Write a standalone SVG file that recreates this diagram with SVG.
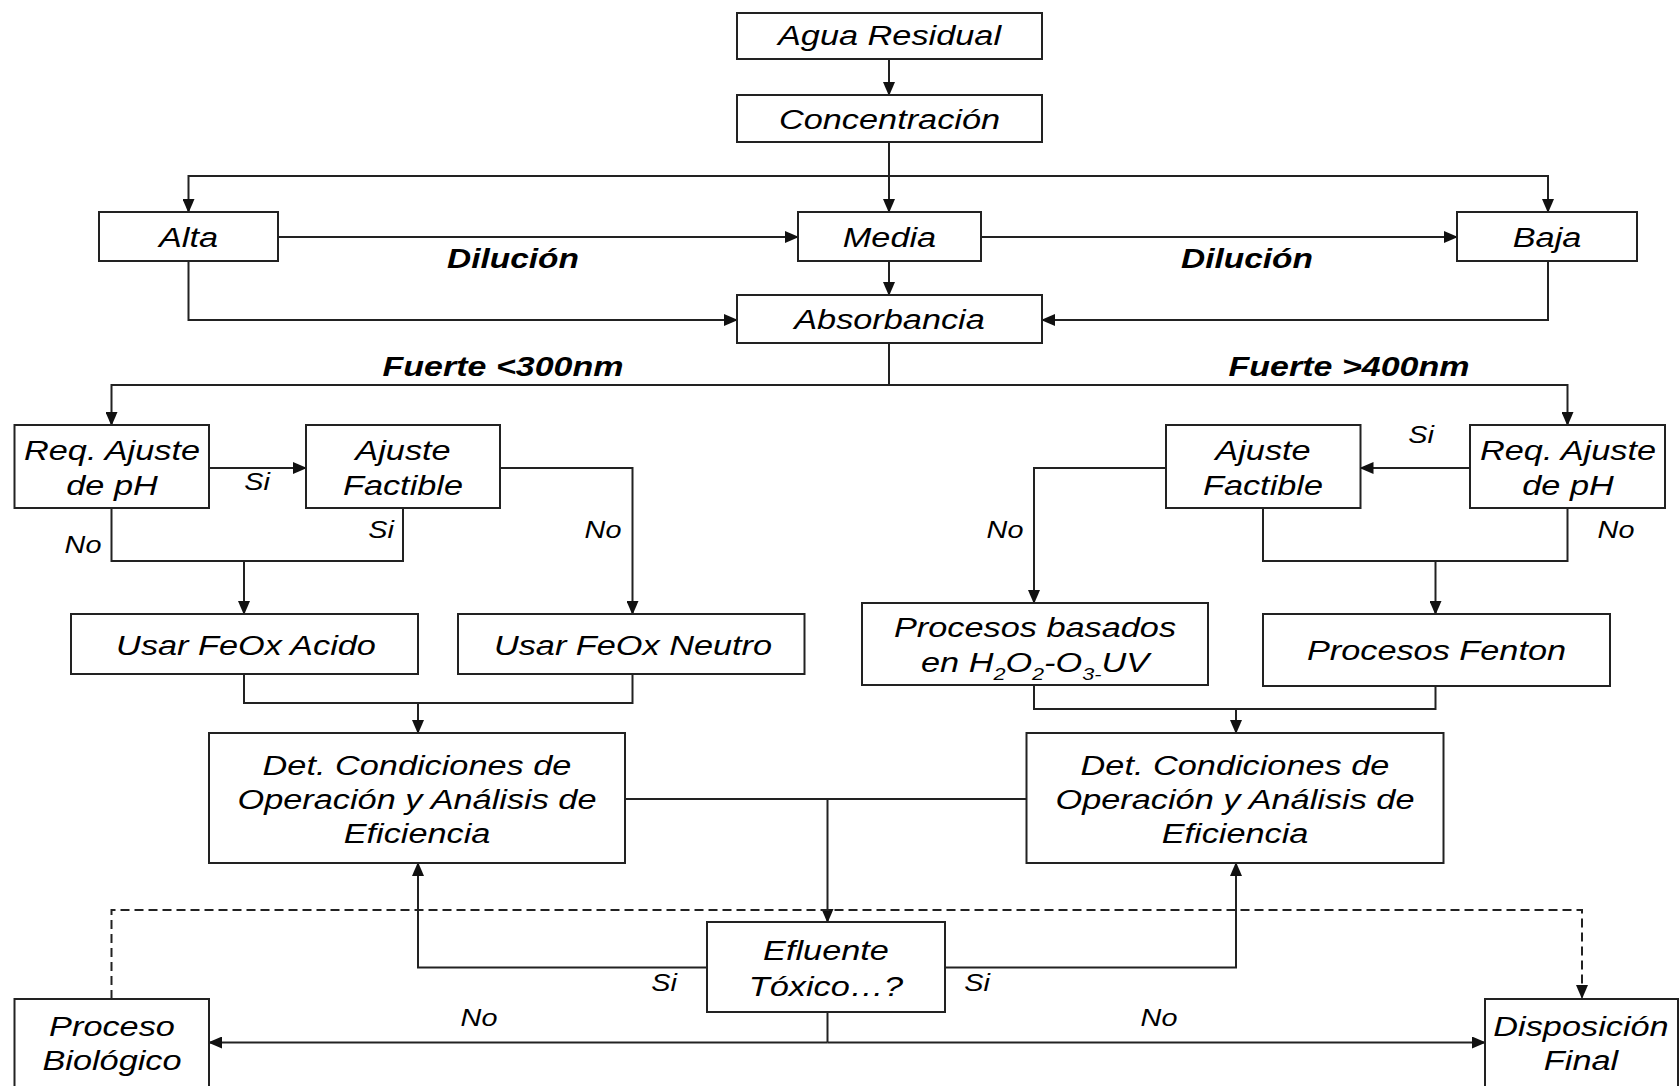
<svg xmlns="http://www.w3.org/2000/svg" width="1679" height="1086" viewBox="0 0 1679 1086">
<style>
.box{fill:#fff;stroke:#222;stroke-width:2}
.c{fill:none;stroke:#222;stroke-width:2}
.d{fill:none;stroke:#222;stroke-width:2;stroke-dasharray:9,5}
.t{font-family:"Liberation Sans",Arial,sans-serif;font-style:italic;font-size:27px;fill:#000;text-anchor:middle}
.l{font-family:"Liberation Sans",Arial,sans-serif;font-style:italic;font-size:24px;fill:#000;text-anchor:middle}
.b{font-family:"Liberation Sans",Arial,sans-serif;font-style:italic;font-weight:bold;font-size:27px;fill:#000;text-anchor:middle}
.s{font-size:17px}
</style>
<defs>
<marker id="ah" markerUnits="userSpaceOnUse" markerWidth="14" markerHeight="12" viewBox="0 0 14 12" refX="13" refY="6" orient="auto">
<path d="M0,0 L14,6 L0,12 Z" fill="#111"/>
</marker>
</defs>
<rect width="1679" height="1086" fill="#fff"/>

<g id="connectors">
<path class="c" d="M889,59 V95" marker-end="url(#ah)"/>
<path class="c" d="M889,142 V212" marker-end="url(#ah)"/>
<path class="c" d="M889,176 H188.5 V212" marker-end="url(#ah)"/>
<path class="c" d="M889,176 H1548 V212" marker-end="url(#ah)"/>
<path class="c" d="M278,237 H798" marker-end="url(#ah)"/>
<path class="c" d="M981,237 H1457" marker-end="url(#ah)"/>
<path class="c" d="M889,261 V295" marker-end="url(#ah)"/>
<path class="c" d="M188.5,261 V320 H737" marker-end="url(#ah)"/>
<path class="c" d="M1548,261 V320 H1042" marker-end="url(#ah)"/>
<path class="c" d="M889,343 V385"/>
<path class="c" d="M889,385 H111.5 V425" marker-end="url(#ah)"/>
<path class="c" d="M889,385 H1567.5 V425" marker-end="url(#ah)"/>
<path class="c" d="M209,468 H306" marker-end="url(#ah)"/>
<path class="c" d="M111.5,508 V561 H403 V508"/>
<path class="c" d="M244,561 V614" marker-end="url(#ah)"/>
<path class="c" d="M500,468 H632.5 V614" marker-end="url(#ah)"/>
<path class="c" d="M244,674 V703 H632.5 V674"/>
<path class="c" d="M418,703 V733" marker-end="url(#ah)"/>
<path class="c" d="M1470,468 H1360.5" marker-end="url(#ah)"/>
<path class="c" d="M1166,468 H1034 V603" marker-end="url(#ah)"/>
<path class="c" d="M1263,508 V561 H1567.5 V508"/>
<path class="c" d="M1435.5,561 V614" marker-end="url(#ah)"/>
<path class="c" d="M1034,685 V709 H1435.5 V686"/>
<path class="c" d="M1236,709 V733" marker-end="url(#ah)"/>
<path class="c" d="M625,799 H1026"/>
<path class="c" d="M827.5,799 V922" marker-end="url(#ah)"/>
<path class="c" d="M707,967.5 H418 V863" marker-end="url(#ah)"/>
<path class="c" d="M945,967.5 H1236 V863" marker-end="url(#ah)"/>
<path class="c" d="M827.5,1012 V1042.5"/>
<path class="c" d="M827.5,1042.5 H209" marker-end="url(#ah)"/>
<path class="c" d="M827.5,1042.5 H1485" marker-end="url(#ah)"/>
<path class="d" d="M111.5,999 V910 H1582 V998" marker-end="url(#ah)"/>
</g>

<g id="labels">
<text class="b" transform="translate(513,268) scale(1.24,1)">Dilución</text>
<text class="b" transform="translate(1247,268) scale(1.24,1)">Dilución</text>
<text class="b" transform="translate(503,376) scale(1.26,1)">Fuerte &lt;300nm</text>
<text class="b" transform="translate(1349,376) scale(1.26,1)">Fuerte &gt;400nm</text>
<text class="l" transform="translate(257,490) scale(1.2,1)">Si</text>
<text class="l" transform="translate(83,553) scale(1.2,1)">No</text>
<text class="l" transform="translate(381,538) scale(1.2,1)">Si</text>
<text class="l" transform="translate(603,538) scale(1.2,1)">No</text>
<text class="l" transform="translate(1421,443) scale(1.2,1)">Si</text>
<text class="l" transform="translate(1005,538) scale(1.2,1)">No</text>
<text class="l" transform="translate(1616,538) scale(1.2,1)">No</text>
<text class="l" transform="translate(664,991) scale(1.2,1)">Si</text>
<text class="l" transform="translate(977,991) scale(1.2,1)">Si</text>
<text class="l" transform="translate(479,1026) scale(1.2,1)">No</text>
<text class="l" transform="translate(1159,1026) scale(1.2,1)">No</text>
</g>

<g id="agua">
<rect class="box" x="737" y="13" width="305" height="46"/>
<text class="t" transform="translate(889.5,45) scale(1.27,1)">Agua Residual</text>
</g>
<g id="concentracion">
<rect class="box" x="737" y="95" width="305" height="47"/>
<text class="t" transform="translate(889.5,129) scale(1.27,1)">Concentración</text>
</g>
<g id="alta">
<rect class="box" x="99" y="212" width="179" height="49"/>
<text class="t" transform="translate(188.5,247) scale(1.27,1)">Alta</text>
</g>
<g id="media">
<rect class="box" x="798" y="212" width="183" height="49"/>
<text class="t" transform="translate(889.5,247) scale(1.27,1)">Media</text>
</g>
<g id="baja">
<rect class="box" x="1457" y="212" width="180" height="49"/>
<text class="t" transform="translate(1547,247) scale(1.27,1)">Baja</text>
</g>
<g id="absorbancia">
<rect class="box" x="737" y="295" width="305" height="48"/>
<text class="t" transform="translate(889.5,329) scale(1.27,1)">Absorbancia</text>
</g>
<g id="req-izq">
<rect class="box" x="14.5" y="425" width="194.5" height="83"/>
<text class="t" transform="translate(112,460) scale(1.27,1)"><tspan x="0">Req. Ajuste</tspan><tspan x="0" dy="35">de pH</tspan></text>
</g>
<g id="ajuste-izq">
<rect class="box" x="306" y="425" width="194" height="83"/>
<text class="t" transform="translate(403,460) scale(1.27,1)"><tspan x="0">Ajuste</tspan><tspan x="0" dy="35">Factible</tspan></text>
</g>
<g id="acido">
<rect class="box" x="71" y="614" width="347" height="60"/>
<text class="t" transform="translate(246,655) scale(1.27,1)">Usar FeOx Acido</text>
</g>
<g id="neutro">
<rect class="box" x="458" y="614" width="346.5" height="60"/>
<text class="t" transform="translate(633,655) scale(1.27,1)">Usar FeOx Neutro</text>
</g>
<g id="ajuste-der">
<rect class="box" x="1166" y="425" width="194.5" height="83"/>
<text class="t" transform="translate(1263,460) scale(1.27,1)"><tspan x="0">Ajuste</tspan><tspan x="0" dy="35">Factible</tspan></text>
</g>
<g id="req-der">
<rect class="box" x="1470" y="425" width="195" height="83"/>
<text class="t" transform="translate(1568,460) scale(1.27,1)"><tspan x="0">Req. Ajuste</tspan><tspan x="0" dy="35">de pH</tspan></text>
</g>
<g id="h2o2">
<rect class="box" x="862" y="603" width="346" height="82"/>
<text class="t" transform="translate(1035,637) scale(1.27,1)"><tspan x="0">Procesos basados</tspan></text>
<text class="t" transform="translate(1035,672) scale(1.27,1)">en H<tspan class="s" dy="8">2</tspan><tspan dy="-8">O</tspan><tspan class="s" dy="8">2</tspan><tspan dy="-8">-O</tspan><tspan class="s" dy="8">3-</tspan><tspan dy="-8">UV</tspan></text>
</g>
<g id="fenton">
<rect class="box" x="1263" y="614" width="347" height="72"/>
<text class="t" transform="translate(1436.5,660) scale(1.27,1)">Procesos Fenton</text>
</g>
<g id="det-izq">
<rect class="box" x="209" y="733" width="416" height="130"/>
<text class="t" transform="translate(417,775) scale(1.27,1)"><tspan x="0">Det. Condiciones de</tspan><tspan x="0" dy="34">Operación y Análisis de</tspan><tspan x="0" dy="34">Eficiencia</tspan></text>
</g>
<g id="det-der">
<rect class="box" x="1026.5" y="733" width="417" height="130"/>
<text class="t" transform="translate(1235,775) scale(1.27,1)"><tspan x="0">Det. Condiciones de</tspan><tspan x="0" dy="34">Operación y Análisis de</tspan><tspan x="0" dy="34">Eficiencia</tspan></text>
</g>
<g id="efluente">
<rect class="box" x="707" y="922" width="238" height="90"/>
<text class="t" transform="translate(826,960) scale(1.27,1)"><tspan x="0">Efluente</tspan><tspan x="0" dy="36">Tóxico…?</tspan></text>
</g>
<g id="biologico">
<rect class="box" x="14.5" y="999" width="194.5" height="100"/>
<text class="t" transform="translate(112,1036) scale(1.27,1)"><tspan x="0">Proceso</tspan><tspan x="0" dy="34">Biológico</tspan></text>
</g>
<g id="disposicion">
<rect class="box" x="1485" y="999" width="193" height="100"/>
<text class="t" transform="translate(1581,1036) scale(1.27,1)"><tspan x="0">Disposición</tspan><tspan x="0" dy="34">Final</tspan></text>
</g>
</svg>
